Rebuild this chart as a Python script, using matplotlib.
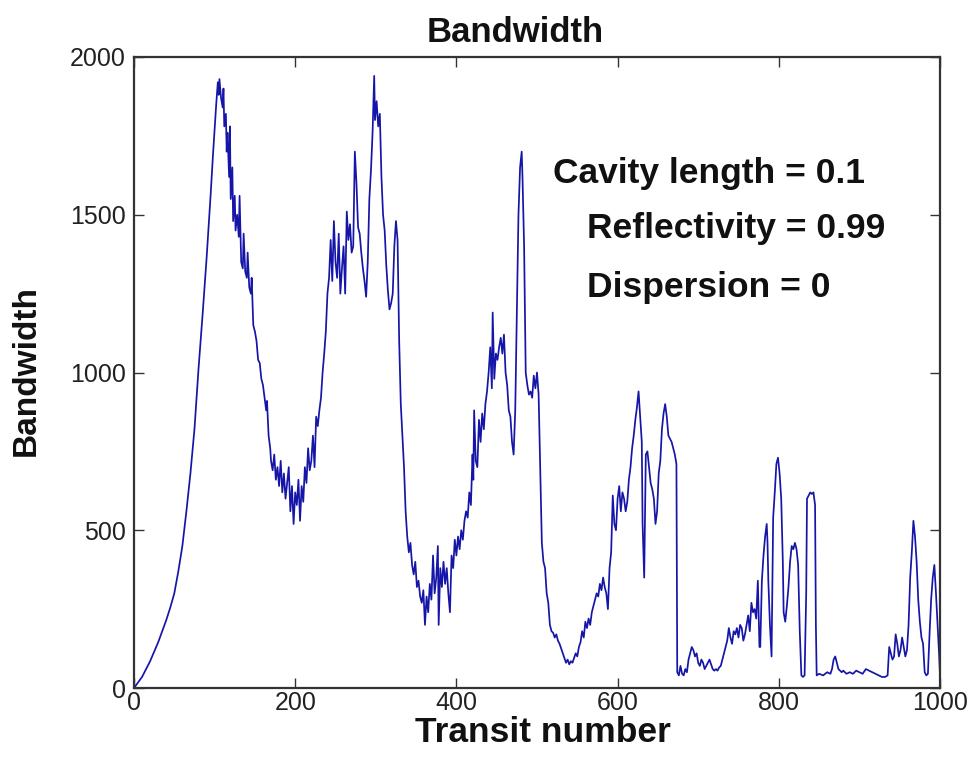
import matplotlib
matplotlib.use("Agg")
import matplotlib.pyplot as plt
from matplotlib import font_manager

# ---- data (transit number, bandwidth) ----
transit_rise = [0, 10, 20, 30, 40, 45, 50, 55, 60, 65, 70, 75, 80, 85, 90, 95, 98, 102, 104]
bw_rise = [0, 35, 85, 145, 215, 255, 300, 370, 450, 560, 680, 820, 1010, 1180, 1360, 1560, 1690, 1850, 1920]

transit_peak1 = [105, 106, 108, 110, 111, 112, 114, 115, 116, 118, 119, 120, 122, 123, 125, 126, 128, 130,
                 131, 133, 135, 136, 138, 140, 141, 143, 145, 146, 148, 150, 152, 154, 156, 158, 160, 162,
                 164, 165, 167, 169, 170, 172, 174, 176, 178, 180, 182, 184, 186, 188, 190, 192, 194, 196,
                 198, 200, 202, 204, 206, 208, 210, 212, 214, 216, 218, 220, 222, 224, 226, 228, 230, 232,
                 234, 236, 238, 240]
bw_peak1 = [1880, 1930, 1870, 1840, 1900, 1780, 1820, 1700, 1760, 1620, 1780, 1550, 1650, 1480, 1560, 1450, 1500, 1430,
            1560, 1350, 1330, 1440, 1320, 1300, 1380, 1270, 1250, 1300, 1150, 1130, 1100, 1040, 1030, 980, 960, 920,
            880, 910, 800, 760, 720, 690, 740, 660, 700, 640, 720, 620, 680, 600, 650, 700, 560, 640,
            520, 620, 580, 660, 530, 640, 590, 700, 650, 760, 690, 720, 800, 700, 860, 830, 880, 920,
            1000, 1060, 1130, 1250]

transit_peak2 = [242, 244, 246, 248, 250, 252, 254, 256, 258, 260, 262, 264, 266, 268, 270, 272, 274, 276,
                 278, 280, 282, 284, 286, 288, 290, 292, 294, 296, 298, 299, 301, 303, 305, 307, 309, 311,
                 313, 315, 317, 319, 321, 323, 325, 327, 329, 331, 333]
bw_peak2 = [1300, 1420, 1290, 1480, 1350, 1300, 1440, 1250, 1330, 1400, 1250, 1510, 1420, 1470, 1380, 1400, 1700, 1600,
            1460, 1440, 1380, 1330, 1290, 1240, 1350, 1550, 1640, 1760, 1940, 1800, 1860, 1780, 1820, 1620, 1500, 1450,
            1340, 1260, 1200, 1220, 1250, 1400, 1480, 1420, 1100, 900, 800]

transit_peak3 = [335, 337, 339, 341, 343, 345, 347, 349, 351, 353, 355, 357, 359, 361, 363, 365, 367, 369,
                 371, 373, 375, 377, 378, 380, 382, 384, 386, 388, 390, 392, 394, 396, 398, 400, 402, 404,
                 406, 408, 410, 412, 414, 416, 418, 420, 421, 422, 424, 426, 428, 430, 432, 434, 436, 438,
                 440, 442, 444, 445, 447, 449, 451, 453, 455, 457, 459, 461, 463, 465, 467, 469, 471, 473,
                 475, 477, 479, 481, 482, 484, 486, 488, 490, 492, 494, 496, 498, 500, 502, 504, 506, 508,
                 510, 512, 514, 516, 518, 520, 522, 524, 526, 528]
bw_peak3 = [700, 560, 480, 430, 460, 390, 360, 400, 320, 340, 290, 270, 310, 200, 290, 240, 330, 280,
            420, 300, 350, 450, 200, 380, 320, 400, 330, 380, 300, 240, 420, 380, 470, 420, 480, 440,
            500, 470, 530, 560, 540, 620, 580, 740, 660, 880, 720, 700, 850, 780, 870, 820, 900, 940,
            1000, 1080, 950, 1190, 980, 1060, 1040, 1080, 1110, 1060, 1120, 1000, 960, 880, 860, 780, 740, 880,
            1200, 1500, 1650, 1700, 1620, 1400, 1000, 960, 930, 940, 920, 990, 950, 1000, 930, 700, 460, 400,
            380, 300, 270, 200, 180, 175, 160, 170, 150, 140]

transit_peak4 = [530, 532, 534, 536, 538, 540, 542, 544, 546, 548, 550, 552, 554, 556, 558, 560, 562, 564,
                 566, 568, 570, 572, 574, 576, 578, 580, 582, 584, 586, 588, 590, 592, 594, 596, 598, 600,
                 602, 604, 606, 608, 610, 612, 614, 616, 618, 620, 622, 624, 626, 628, 630, 631, 633, 635,
                 637, 639, 641, 643, 645, 647, 649, 651, 653, 655, 657, 659, 661, 663, 665, 667, 669, 671,
                 673]
bw_peak4 = [125, 110, 95, 80, 90, 75, 85, 80, 95, 110, 100, 130, 145, 180, 160, 210, 190, 220,
            200, 240, 260, 280, 300, 290, 330, 310, 350, 320, 300, 250, 380, 430, 610, 520, 500, 600,
            640, 560, 620, 600, 560, 590, 660, 700, 760, 800, 850, 890, 940, 860, 780, 520, 350, 740,
            750, 700, 650, 630, 600, 520, 560, 680, 720, 820, 870, 900, 860, 800, 790, 780, 760, 740,
            710]

transit_tail = [674, 676, 678, 680, 682, 684, 686, 688, 690, 692, 694, 696, 698, 700, 702, 704, 706, 708,
                710, 712, 714, 716, 718, 720, 722, 724, 726, 728, 730, 732, 734, 736, 738, 740, 742, 744,
                746, 748, 750, 752, 754, 756, 758, 760, 762, 764, 766, 768, 770, 772, 774, 776, 777, 779,
                781, 783, 785, 786, 787, 789, 791, 793, 795, 797, 799, 801, 803, 805, 806, 808, 810, 812,
                814, 816, 818, 820, 822, 824, 826, 828, 830, 832, 834, 835, 837, 839, 841, 843, 845, 846,
                847, 850, 855, 860, 864, 866, 868, 870, 872, 874, 876, 878, 880, 884, 888, 892, 896, 900,
                904, 908, 912, 916, 920, 924, 928, 932, 935, 937, 939, 941, 943, 945, 947, 949, 951, 953,
                955, 957, 959, 961, 963, 965, 967, 969, 971, 973, 975, 977, 979, 981, 983, 985, 987, 989,
                991, 993, 995, 997, 999, 1000]
bw_tail = [50, 40, 70, 45, 40, 60, 50, 90, 110, 130, 120, 100, 110, 80, 70, 90, 80, 60,
           70, 80, 90, 75, 60, 55, 60, 55, 65, 70, 90, 110, 130, 150, 190, 160, 140, 180,
           170, 190, 160, 200, 190, 150, 170, 200, 230, 180, 270, 240, 250, 220, 340, 130, 130, 340,
           420, 480, 520, 460, 340, 200, 100, 540, 620, 710, 730, 680, 600, 400, 240, 210, 260, 320,
           400, 450, 440, 460, 440, 390, 180, 40, 35, 40, 300, 600, 610, 620, 615, 620, 580, 200,
           40, 45, 40, 50, 45, 60, 90, 100, 80, 60, 55, 50, 55, 45, 50, 45, 55, 50,
           45, 60, 55, 50, 45, 40, 35, 35, 40, 130, 110, 90, 100, 170, 140, 100, 120, 160,
           130, 100, 120, 200, 350, 430, 530, 480, 400, 280, 210, 160, 140, 50, 40, 45, 170, 280,
           350, 390, 300, 200, 100, 40]

x_ticks = [0, 200, 400, 600, 800, 1000]
y_ticks = [0, 500, 1000, 1500, 2000]
annotations = ["Cavity length = 0.1", "Reflectivity = 0.99", "Dispersion = 0"]

transit = (transit_rise + transit_peak1 + transit_peak2 + transit_peak3 +
           transit_peak4 + transit_tail)
bandwidth = bw_rise + bw_peak1 + bw_peak2 + bw_peak3 + bw_peak4 + bw_tail

# pick a condensed face for the tick labels if one is installed
installed = {f.name for f in font_manager.fontManager.ttflist}
narrow = [n for n in ["Liberation Sans Narrow", "Arial Narrow", "DejaVu Sans Condensed"] if n in installed]
if narrow:
    tick_font = [narrow[0], "DejaVu Sans"]
    tick_size = 20
else:
    tick_font = ["Liberation Sans", "DejaVu Sans"]
    tick_size = 18

# ---- figure ----
fig = plt.figure(figsize=(9.73, 7.63), dpi=100)
fig.patch.set_facecolor("white")
ax = fig.add_axes([134 / 973, 1 - 688 / 763, (940 - 134) / 973, (688 - 57) / 763])

ax.plot(transit, bandwidth, color="#1515a8", linewidth=1.25)
ax.set_xlim(0, 1000)
ax.set_ylim(0, 2000)
ax.set_xticks(x_ticks)
ax.set_yticks(y_ticks)

ax.tick_params(direction="in", length=7, width=1.0, top=True, right=True,
               colors="#333333", labelcolor="#222222")
ax.tick_params(axis="x", pad=2)
ax.tick_params(axis="y", pad=6)
for lab in ax.get_xticklabels() + ax.get_yticklabels():
    lab.set_fontfamily(tick_font)
    lab.set_fontsize(tick_size)
for sp in ax.spines.values():
    sp.set_color("#333333")
    sp.set_linewidth(1.6)

bold_font = ["Liberation Sans", "DejaVu Sans"]
fig.text(515 / 973, 1 - 42 / 763, "Bandwidth", ha="center", va="baseline",
         fontsize=25, fontweight="bold", family=bold_font, color="#111111")
fig.text(543 / 973, 1 - 742 / 763, "Transit number", ha="center", va="baseline",
         fontsize=25.5, fontweight="bold", family=bold_font, color="#111111")
fig.text(26 / 973, 1 - 371 / 763, "Bandwidth", ha="center", va="center", rotation=90,
         fontsize=24, fontweight="bold", family=bold_font, color="#111111")

ann_x = [520, 562, 562]
ann_y = [1632, 1458, 1268]
for tx, ty, s in zip(ann_x, ann_y, annotations):
    ax.text(tx, ty, s, ha="left", va="center", fontsize=25.5, fontweight="bold",
            family=bold_font, color="#111111")

fig.savefig("out.png", dpi=100)
